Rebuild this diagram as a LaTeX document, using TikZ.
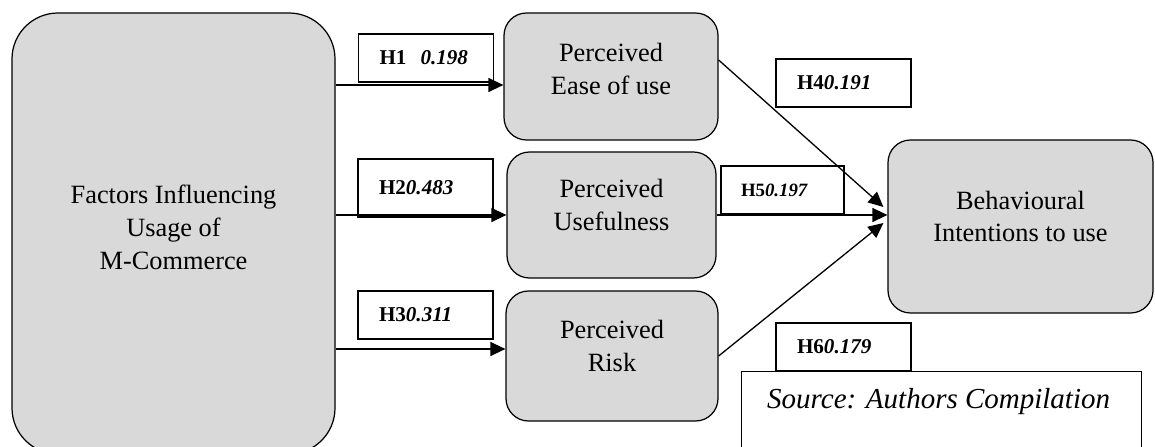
\documentclass[tikz,border=0pt]{standalone}
\usepackage{fontspec}
\setmainfont{Liberation Serif}
\usetikzlibrary{arrows.meta}
\definecolor{boxgray}{HTML}{D9D9D9}
\tikzset{
  factor/.style={draw, fill=boxgray, rounded corners=0.45cm, line width=0.7pt},
  boxtext/.style={align=center, font=\fontsize{15}{18.7}\selectfont},
  hypo/.style={draw, line width=1.1pt, minimum width=2.7cm, minimum height=0.96cm,
    inner ysep=0pt, inner xsep=0.42cm, text width=1.86cm, align=left,
    font=\fontsize{12}{14}\selectfont},
  link/.style={-{Triangle[length=0.3cm,width=0.28cm]}, line width=0.75pt}
}
\newcommand{\hval}[2]{\textbf{H#1}\textbf{\textit{#2}}}

\begin{document}
\begin{tikzpicture}
 \useasboundingbox (0,0) rectangle (23.1,8.92);

 % gray boxes
 \node[factor, rounded corners=0.92cm, minimum width=6.46cm, minimum height=8.82cm] (factors) at (3.47,4.25) {};
 \node[boxtext] (factors-t) at ([yshift=0.13cm]factors) {Factors Influencing\\Usage of\\M-Commerce};
 \node[factor, minimum width=4.28cm, minimum height=2.54cm] (ease) at (12.22,7.39) {};
 \node[boxtext] (ease-t) at ([yshift=0.15cm]ease) {Perceived\\Ease of use};
 \node[factor, minimum width=4.18cm, minimum height=2.52cm] (useful) at (12.23,4.62) {};
 \node[boxtext] (useful-t) at ([yshift=0.2cm]useful) {Perceived\\Usefulness};
 \node[factor, minimum width=4.24cm, minimum height=2.6cm] (risk) at (12.24,1.8) {};
 \node[boxtext] (risk-t) at ([yshift=0.2cm]risk) {Perceived\\Risk};
 \node[factor, minimum width=5.3cm, minimum height=3.46cm] (behav) at (20.41,4.39) {};
 \node[boxtext] (behav-t) at ([yshift=0.2cm]behav) {Behavioural\\Intentions to use};

 % source note
 \node[draw, line width=0.6pt, minimum width=8cm, minimum height=2cm, anchor=north west] (src) at (14.82,1.5) {};
 \node[anchor=base west, font=\fontsize{16.5}{20}\selectfont\itshape] (src-t) at (15.22,0.76) {Source: Authors Compilation};

 % hypothesis labels
 \node[hypo] (h1) at (8.52,7.76) {\textbf{H1}~~\textbf{\textit{0.198}}};
 \node[hypo, minimum height=1.16cm] (h2) at (8.51,5.16) {\hval{2}{0.483}};
 \node[hypo] (h3) at (8.51,2.62) {\hval{3}{0.311}};
 \node[hypo] (h4) at (16.87,7.26) {\hval{4}{0.191}};
 \node[hypo, minimum width=2.46cm, inner xsep=0.4cm, text width=1.66cm,
   font=\fontsize{10.7}{13}\selectfont] (h5) at (15.65,5.12) {\hval{5}{0.197}};
 \node[hypo] (h6) at (16.87,1.98) {\hval{6}{0.179}};

 % paths
 \coordinate (in1) at ([yshift=-0.17cm]ease.west);
 \coordinate (in3) at ([yshift=0.14cm]risk.west);
 \draw[link] (factors.east |- in1) -- (in1);
 \draw[link] (factors.east |- useful.west) -- (useful.west);
 \draw[link] (factors.east |- in3) -- (in3);
 \draw[link] ([yshift=0.33cm]ease.east) -- ([xshift=-0.08cm,yshift=0.39cm]behav.west);
 \draw[link] (useful.east) -- ([yshift=0.23cm]behav.west);
 \draw[link] (risk.east) -- ([xshift=-0.08cm,yshift=0.07cm]behav.west);
\end{tikzpicture}
\end{document}
